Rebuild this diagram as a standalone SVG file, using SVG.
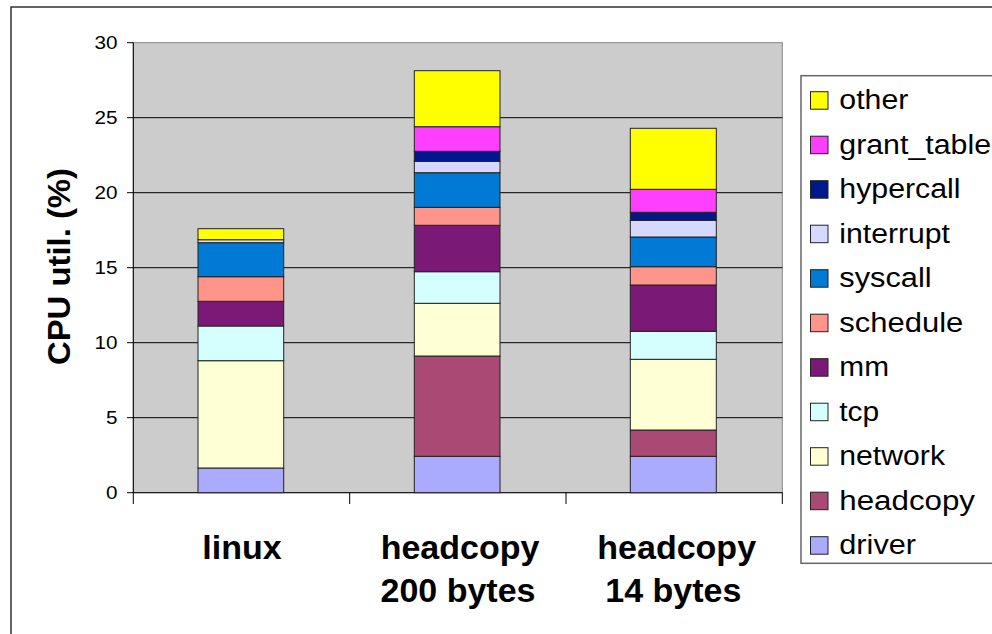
<svg xmlns="http://www.w3.org/2000/svg" width="992" height="634" viewBox="0 0 992 634">
<style>
.seg{stroke:#222;stroke-width:1}
.other{fill:#FFFF00}.grant{fill:#FF3FFF}.hyper{fill:#00188C}.intr{fill:#D6D8FF}.sys{fill:#007AD4}
.sched{fill:#FF958A}.mm{fill:#7A1A76}.tcp{fill:#D5FFFF}.net{fill:#FFFFD6}.head{fill:#AA4A74}.drv{fill:#AAAAFF}
.grid{stroke:#000;stroke-width:1}
.tick{font-family:"Liberation Sans",Arial,sans-serif;font-size:18px;fill:#000;text-anchor:end}
.cat{font-family:"Liberation Sans",Arial,sans-serif;font-size:34px;font-weight:bold;fill:#000;text-anchor:middle}
.leg{font-family:"Liberation Sans",Arial,sans-serif;font-size:27px;fill:#000}
.sw{stroke:#222;stroke-width:1}
</style>
<rect x="0" y="0" width="992" height="634" fill="#fff"/>
<rect x="11" y="7" width="1000" height="700" fill="none" stroke="#333" stroke-width="1.5"/>
<g id="plot">
<rect x="133.3" y="42.7" width="649" height="450" fill="#CCCCCC" stroke="#888" stroke-width="1"/>
<g id="gridlines">
<line class="grid" x1="127" y1="42.7" x2="133.3" y2="42.7"/>
<line class="grid" x1="127" y1="117.7" x2="782.3" y2="117.7"/>
<line class="grid" x1="127" y1="192.7" x2="782.3" y2="192.7"/>
<line class="grid" x1="127" y1="267.7" x2="782.3" y2="267.7"/>
<line class="grid" x1="127" y1="342.7" x2="782.3" y2="342.7"/>
<line class="grid" x1="127" y1="417.7" x2="782.3" y2="417.7"/>
<line class="grid" x1="127" y1="492.7" x2="782.3" y2="492.7"/>
<line class="grid" x1="133.3" y1="42.7" x2="133.3" y2="504"/>
<line class="grid" x1="349.7" y1="492.7" x2="349.7" y2="504" stroke="#555"/>
<line class="grid" x1="566" y1="492.7" x2="566" y2="504" stroke="#555"/>
<line class="grid" x1="782.3" y1="492.7" x2="782.3" y2="504" stroke="#555"/>
</g>
<g id="yticks">
<text class="tick" x="117.5" y="49.3" textLength="23" lengthAdjust="spacingAndGlyphs">30</text>
<text class="tick" x="117.5" y="124.3" textLength="23" lengthAdjust="spacingAndGlyphs">25</text>
<text class="tick" x="117.5" y="199.3" textLength="23" lengthAdjust="spacingAndGlyphs">20</text>
<text class="tick" x="117.5" y="274.3" textLength="23" lengthAdjust="spacingAndGlyphs">15</text>
<text class="tick" x="117.5" y="349.3" textLength="23" lengthAdjust="spacingAndGlyphs">10</text>
<text class="tick" x="117.5" y="424.3" textLength="11.5" lengthAdjust="spacingAndGlyphs">5</text>
<text class="tick" x="117.5" y="499.3" textLength="11.5" lengthAdjust="spacingAndGlyphs">0</text>
</g>
<text id="ytitle" transform="translate(70,266.5) rotate(-90)" font-family="'Liberation Sans',Arial,sans-serif" font-size="32" font-weight="bold" text-anchor="middle" textLength="197" lengthAdjust="spacingAndGlyphs">CPU util. (%)</text>
</g>
<g id="bar-linux">
<rect class="seg drv" x="198" y="468" width="85.7" height="24.7"/>
<rect class="seg net" x="198" y="360.7" width="85.7" height="107.3"/>
<rect class="seg tcp" x="198" y="326" width="85.7" height="34.7"/>
<rect class="seg mm" x="198" y="301.3" width="85.7" height="24.7"/>
<rect class="seg sched" x="198" y="276.7" width="85.7" height="24.6"/>
<rect class="seg sys" x="198" y="242.7" width="85.7" height="34"/>
<rect class="seg intr" x="198" y="239.7" width="85.7" height="3"/>
<rect class="seg other" x="198" y="228.7" width="85.7" height="11"/>
</g>
<g id="bar-headcopy-200">
<rect class="seg drv" x="414.3" y="456.3" width="85.7" height="36.4"/>
<rect class="seg head" x="414.3" y="356" width="85.7" height="100.3"/>
<rect class="seg net" x="414.3" y="303.3" width="85.7" height="52.7"/>
<rect class="seg tcp" x="414.3" y="271.7" width="85.7" height="31.6"/>
<rect class="seg mm" x="414.3" y="225.3" width="85.7" height="46.4"/>
<rect class="seg sched" x="414.3" y="207.3" width="85.7" height="18"/>
<rect class="seg sys" x="414.3" y="172.7" width="85.7" height="34.6"/>
<rect class="seg intr" x="414.3" y="161.3" width="85.7" height="11.4"/>
<rect class="seg hyper" x="414.3" y="151.3" width="85.7" height="10"/>
<rect class="seg grant" x="414.3" y="126.7" width="85.7" height="24.6"/>
<rect class="seg other" x="414.3" y="70.7" width="85.7" height="56"/>
</g>
<g id="bar-headcopy-14">
<rect class="seg drv" x="630.3" y="456.3" width="86" height="36.4"/>
<rect class="seg head" x="630.3" y="430" width="86" height="26.3"/>
<rect class="seg net" x="630.3" y="359.3" width="86" height="70.7"/>
<rect class="seg tcp" x="630.3" y="331.3" width="86" height="28"/>
<rect class="seg mm" x="630.3" y="285" width="86" height="46.3"/>
<rect class="seg sched" x="630.3" y="266.7" width="86" height="18.3"/>
<rect class="seg sys" x="630.3" y="237" width="86" height="29.7"/>
<rect class="seg intr" x="630.3" y="220.3" width="86" height="16.7"/>
<rect class="seg hyper" x="630.3" y="212.3" width="86" height="8"/>
<rect class="seg grant" x="630.3" y="189.3" width="86" height="23"/>
<rect class="seg other" x="630.3" y="128.3" width="86" height="61"/>
</g>
<g id="categories">
<text class="cat" x="242" y="559.3">linux</text>
<text class="cat" x="460" y="559.3">headcopy</text>
<text class="cat" x="458" y="601.7">200 bytes</text>
<text class="cat" x="676.7" y="559.3">headcopy</text>
<text class="cat" x="673.3" y="601.7">14 bytes</text>
</g>
<g id="legend">
<rect x="801" y="75.7" width="250" height="487.6" fill="#fff" stroke="#666" stroke-width="1.5"/>
<rect class="sw other" x="810.5" y="91.7" width="17.5" height="17.5"/>
<text class="leg" x="839.3" y="109.3" textLength="69" lengthAdjust="spacingAndGlyphs">other</text>
<rect class="sw grant" x="810.5" y="136.2" width="17.5" height="17.5"/>
<text class="leg" x="839.3" y="153.8" textLength="151.7" lengthAdjust="spacingAndGlyphs">grant_table</text>
<rect class="sw hyper" x="810.5" y="180.7" width="17.5" height="17.5"/>
<text class="leg" x="839.3" y="198.3" textLength="121.3" lengthAdjust="spacingAndGlyphs">hypercall</text>
<rect class="sw intr" x="810.5" y="225.2" width="17.5" height="17.5"/>
<text class="leg" x="839.3" y="242.8" textLength="110.7" lengthAdjust="spacingAndGlyphs">interrupt</text>
<rect class="sw sys" x="810.5" y="269.7" width="17.5" height="17.5"/>
<text class="leg" x="839.3" y="287.3" textLength="92.3" lengthAdjust="spacingAndGlyphs">syscall</text>
<rect class="sw sched" x="810.5" y="314.2" width="17.5" height="17.5"/>
<text class="leg" x="839.3" y="331.8" textLength="124" lengthAdjust="spacingAndGlyphs">schedule</text>
<rect class="sw mm" x="810.5" y="358.7" width="17.5" height="17.5"/>
<text class="leg" x="839.3" y="376.3" textLength="49.7" lengthAdjust="spacingAndGlyphs">mm</text>
<rect class="sw tcp" x="810.5" y="403.2" width="17.5" height="17.5"/>
<text class="leg" x="839.3" y="420.8" textLength="40" lengthAdjust="spacingAndGlyphs">tcp</text>
<rect class="sw net" x="810.5" y="447.7" width="17.5" height="17.5"/>
<text class="leg" x="839.3" y="465.3" textLength="105.7" lengthAdjust="spacingAndGlyphs">network</text>
<rect class="sw head" x="810.5" y="492.2" width="17.5" height="17.5"/>
<text class="leg" x="839.3" y="509.8" textLength="135.7" lengthAdjust="spacingAndGlyphs">headcopy</text>
<rect class="sw drv" x="810.5" y="536.7" width="17.5" height="17.5"/>
<text class="leg" x="839.3" y="554.3" textLength="76.7" lengthAdjust="spacingAndGlyphs">driver</text>
</g>
<g id="connectors"></g>
</svg>
